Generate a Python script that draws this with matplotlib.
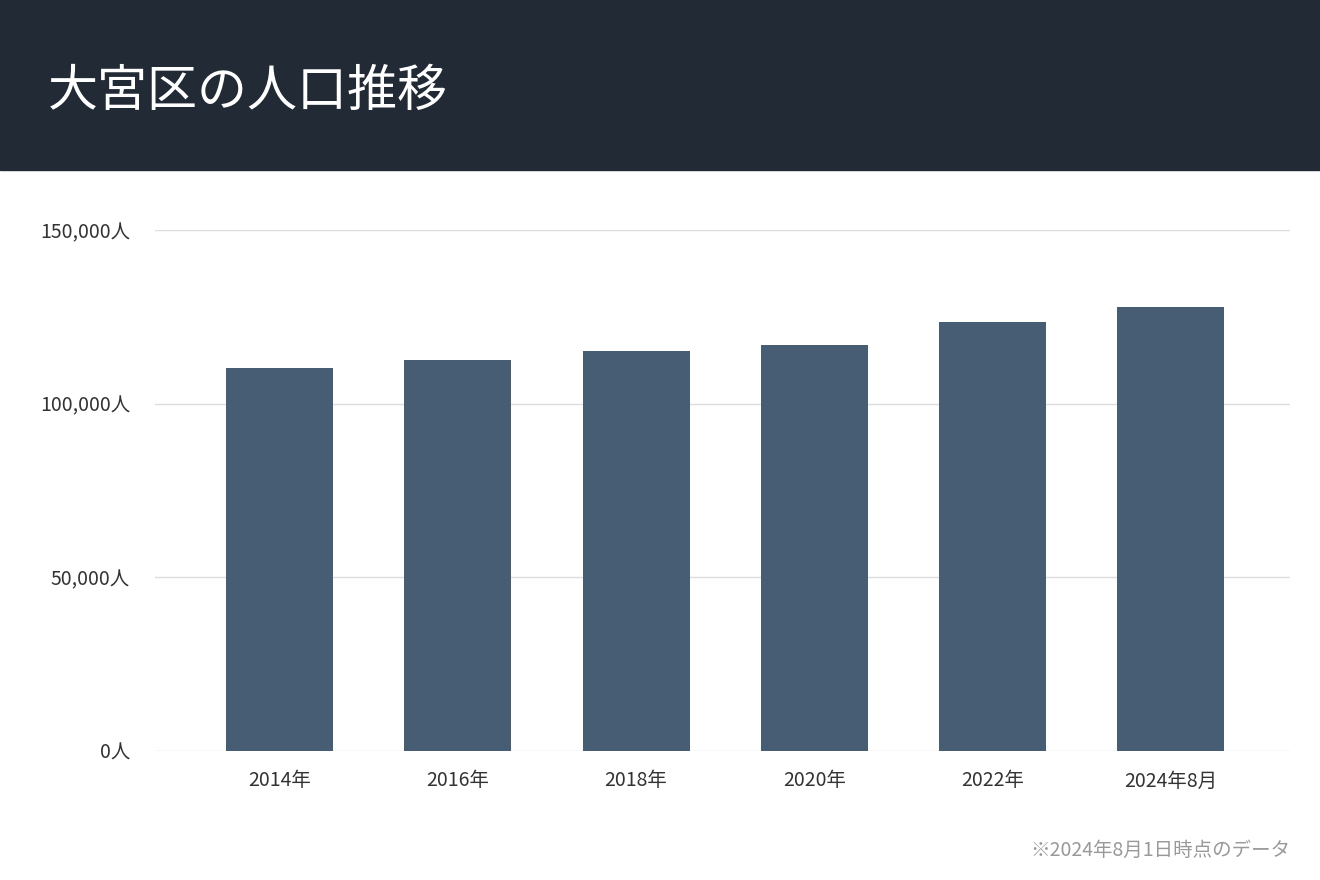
import matplotlib
matplotlib.use("Agg")
import matplotlib.pyplot as plt
from matplotlib.patches import Rectangle

plt.rcParams['font.family'] = ['Noto Sans CJK JP', 'DejaVu Sans']

categories = ["2014年", "2016年", "2018年", "2020年", "2022年", "2024年8月"]
population = [110300, 112600, 115200, 116900, 123500, 127800]
yticks = [0, 50000, 100000, 150000]
ytick_labels = ["0人", "50,000人", "100,000人", "150,000人"]

W, H = 1320, 880
fig = plt.figure(figsize=(13.2, 8.8), dpi=100)
fig.patches.append(Rectangle((0, 1 - 170 / H), 1, 170 / H, transform=fig.transFigure,
                             color="#212a35", zorder=0))
fig.text(48 / W, 1 - 92 / H, "大宮区の人口推移", color="white", fontsize=36,
         va="center", ha="left")

ax = fig.add_axes([155 / W, 1 - 751 / H, (1290 - 155) / W, (751 - 230) / H])
ax.bar(range(len(categories)), population, width=0.6, color="#465d74", zorder=3)
ax.set_xlim(-0.7, len(categories) - 0.33)
ax.set_ylim(0, 150000)
ax.set_yticks(yticks)
ax.set_yticklabels(ytick_labels)
ax.set_xticks(range(len(categories)))
ax.set_xticklabels(categories)
ax.grid(axis="y", color="#dddddd", linewidth=1, zorder=0)
ax.set_axisbelow(True)
for s in ax.spines.values():
    s.set_visible(False)
ax.tick_params(length=0, labelsize=14, colors="#333333")
ax.tick_params(axis="y", pad=18)
ax.tick_params(axis="x", pad=14)
ax.set_clip_on(False)

fig.text(1290 / W, 1 - 850 / H, "※2024年8月1日時点のデータ", color="#999999",
         fontsize=14, ha="right", va="center")

fig.savefig("out.png", dpi=100)
